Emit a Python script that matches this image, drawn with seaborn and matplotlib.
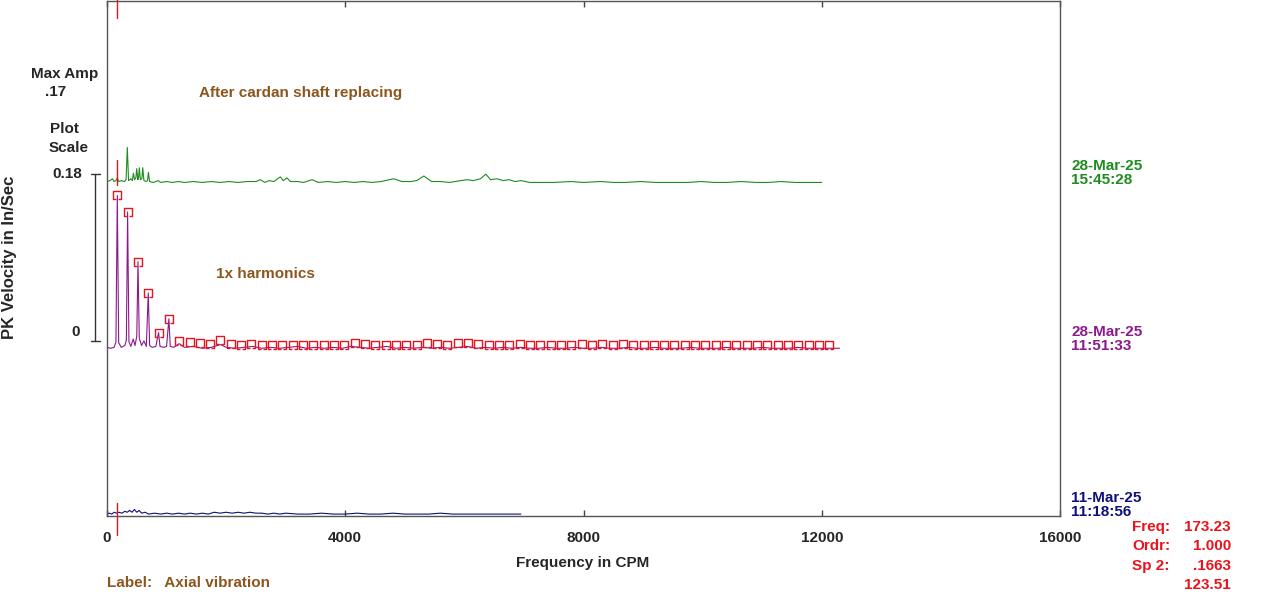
import matplotlib
matplotlib.use('Agg')
import numpy as np
import pandas as pd
import matplotlib.pyplot as plt
import seaborn as sns
from matplotlib.path import Path
from matplotlib.transforms import blended_transform_factory

# ---- data (amplitudes in In/Sec, frequency in CPM) ----
fundamental = 173.23
trace_gap = 0.18          # vertical spacing of the waterfall traces

green_freq = [0, 50, 90, 120, 150, 173, 195, 240, 290, 320, 341, 362, 400, 425, 443, 462,
              485, 499, 518, 530, 543, 560, 585, 600, 620, 660, 680, 695, 715, 780, 860, 900,
              1000, 1100, 1200, 1300, 1450, 1600, 1750, 1900, 2050, 2200, 2350, 2500, 2574,
              2650, 2720, 2800, 2910, 2960, 3020, 3080, 3200, 3300, 3443, 3550, 3700, 3850,
              4000, 4150, 4300, 4450, 4600, 4812, 4950, 5100, 5200, 5320, 5450, 5600, 5750,
              5940, 6050, 6150, 6270, 6360, 6440, 6550, 6650, 6750, 6850, 6950, 7100, 7300,
              7500, 7790, 8000, 8290, 8500, 8700, 8965, 9200, 9500, 9750, 9975, 10200, 10400,
              10650, 10900, 11100, 11320, 11550, 11800, 12000]
green_amp = [0.002, 0.003, 0.005, 0.002, 0.003, 0.006, 0.002, 0.003, 0.002, 0.004, 0.039, 0.003,
             0.005, 0.003, 0.011, 0.004, 0.006, 0.016, 0.004, 0.006, 0.017, 0.004, 0.005, 0.017,
             0.003, 0.002, 0.003, 0.012, 0.002, 0.001, 0.003, 0.001, 0.002, 0.001, 0.002, 0.001,
             0.002, 0.001, 0.002, 0.001, 0.002, 0.001, 0.002, 0.002, 0.004, 0.001, 0.003, 0.002,
             0.007, 0.003, 0.006, 0.002, 0.002, 0.001, 0.004, 0.001, 0.002, 0.001, 0.002, 0.001,
             0.002, 0.001, 0.002, 0.005, 0.002, 0.002, 0.003, 0.008, 0.002, 0.002, 0.001, 0.003,
             0.004, 0.003, 0.005, 0.010, 0.004, 0.005, 0.003, 0.004, 0.002, 0.003, 0.001, 0.001,
             0.001, 0.002, 0.001, 0.002, 0.001, 0.001, 0.002, 0.001, 0.001, 0.001, 0.002, 0.001,
             0.001, 0.002, 0.001, 0.001, 0.002, 0.001, 0.001, 0.001]

purple_freq = [0, 60, 120, 150, 173, 196, 240, 300, 325, 346, 368, 400, 440, 470, 500, 520, 542,
               580, 620, 660, 693, 716, 760, 820, 866, 890, 960, 1000, 1039, 1062, 1120, 1212,
               1300, 1450, 1600, 1750, 1905, 2000, 2150, 2300, 2450, 2600, 2750, 2900, 3050,
               3200, 3350, 3500, 3650, 3800, 3950, 4100, 4250, 4400, 4550, 4700, 4850, 5000,
               5150, 5300, 5450, 5600, 5750, 5900, 6050, 6200, 6350, 6500, 6650, 6800, 6950,
               7100, 7250, 7400, 7550, 7700, 7850, 8000, 8150, 8300, 8450, 8600, 8750, 8900,
               9050, 9200, 9350, 9500, 9650, 9800, 9950, 10100, 10250, 10400, 10550, 10700,
               10850, 11000, 11150, 11300, 11450, 11600, 11750, 11900, 12050, 12200, 12300]
purple_amp = [0.002, 0.001, 0.002, 0.008, 0.167, 0.007, 0.002, 0.004, 0.010, 0.149, 0.008, 0.003,
              0.011, 0.004, 0.014, 0.095, 0.012, 0.004, 0.009, 0.003, 0.061, 0.004, 0.002, 0.003,
              0.018, 0.003, 0.002, 0.003, 0.033, 0.003, 0.002, 0.006, 0.002, 0.003, 0.001, 0.002,
              0.005, 0.002, 0.001, 0.002, 0.003, 0.001, 0.002, 0.001, 0.002, 0.003, 0.001, 0.002,
              0.001, 0.002, 0.001, 0.003, 0.002, 0.001, 0.002, 0.003, 0.001, 0.002, 0.001, 0.002,
              0.001, 0.002, 0.001, 0.002, 0.003, 0.001, 0.002, 0.001, 0.002, 0.001, 0.002, 0.001,
              0.001, 0.002, 0.001, 0.001, 0.002, 0.001, 0.001, 0.002, 0.001, 0.001, 0.002, 0.001,
              0.001, 0.002, 0.001, 0.001, 0.001, 0.002, 0.001, 0.001, 0.001, 0.002, 0.001, 0.001,
              0.001, 0.002, 0.001, 0.001, 0.001, 0.002, 0.001, 0.001, 0.001, 0.001, 0.001]

harm_order = list(range(1, 71))
harm_amp = [0.167, 0.149, 0.095, 0.061, 0.018, 0.033, 0.0087, 0.008, 0.007, 0.006,
            0.0098, 0.0055, 0.005, 0.0055, 0.005, 0.0045, 0.005, 0.0045, 0.005, 0.0045,
            0.005, 0.0045, 0.005, 0.0065, 0.0055, 0.005, 0.0045, 0.0045, 0.005, 0.0045,
            0.0065, 0.006, 0.0045, 0.0065, 0.0065, 0.006, 0.0045, 0.005, 0.0045, 0.006,
            0.0045, 0.0045, 0.0045, 0.0045, 0.0045, 0.006, 0.0045, 0.006, 0.0045, 0.006,
            0.0045, 0.0045, 0.0045, 0.0045, 0.0045, 0.0045, 0.0045, 0.0045, 0.0045, 0.0045,
            0.0045, 0.0045, 0.0045, 0.0045, 0.005, 0.0045, 0.005, 0.005, 0.0045, 0.0045]

blue_freq = [0, 40, 80, 120, 160, 200, 250, 300, 340, 380, 420, 460, 500, 540, 580, 640, 700,
             800, 900, 1000, 1100, 1200, 1300, 1400, 1500, 1600, 1700, 1800, 1900, 2000, 2100,
             2200, 2300, 2400, 2500, 2600, 2700, 2800, 2900, 3000, 3200, 3400, 3600, 3800,
             4000, 4200, 4400, 4600, 4800, 5000, 5200, 5400, 5600, 5800, 6000, 6200, 6400,
             6600, 6800, 6950]
blue_amp = [0.001, 0.002, 0.001, 0.003, 0.002, 0.003, 0.002, 0.004, 0.003, 0.005, 0.003, 0.006,
            0.003, 0.005, 0.002, 0.003, 0.001, 0.002, 0.001, 0.002, 0.001, 0.002, 0.001, 0.002,
            0.001, 0.002, 0.001, 0.003, 0.002, 0.003, 0.002, 0.003, 0.002, 0.003, 0.002, 0.002,
            0.001, 0.002, 0.001, 0.002, 0.001, 0.001, 0.002, 0.001, 0.001, 0.002, 0.001, 0.001,
            0.002, 0.001, 0.001, 0.001, 0.002, 0.001, 0.001, 0.001, 0.001, 0.001, 0.001, 0.001]

x_ticks = [0, 4000, 8000, 12000, 16000]

# colours
GREEN = '#1e8c1e'
PURPLE = '#8b1a8b'
NAVY = '#10107a'
RED = '#e8141c'
BROWN = '#8c561e'
FS = 11

sns.set_style('white')
plt.rcParams['font.family'] = ['Liberation Sans', 'DejaVu Sans']
plt.rcParams['font.weight'] = 'bold'

fig = plt.figure(figsize=(12.8, 6.02), dpi=100)
W, H = 1280, 602
ax = fig.add_axes([107 / W, 1 - 516 / H, (1060 - 107) / W, 516 / H - 0.001])


def fx(px):
    return px / W


def fy(py):
    return 1 - py / H


traces = [
    (blue_freq, blue_amp, 0.0, NAVY),
    (purple_freq, purple_amp, trace_gap, PURPLE),
    (green_freq, green_amp, 2 * trace_gap, GREEN),
]
for freq, amp, off, col in traces:
    d = pd.DataFrame({'f': freq, 'a': np.array(amp) + off})
    sns.lineplot(data=d, x='f', y='a', ax=ax, color=col, lw=0.8, sort=False,
                 estimator=None)

# harmonic markers (open-bottom boxes)
box = Path([(-0.3, -0.85), (-1, -0.85), (-1, 0.85), (1, 0.85), (1, -0.85), (0.3, -0.85)])
hd = pd.DataFrame({'f': np.array(harm_order) * fundamental,
                   'a': np.array(harm_amp) + trace_gap})
ax.plot(hd['f'], hd['a'], ls='none', marker=box, ms=6, mfc='none', mec=RED, mew=1.0)

# cursor lines at 1x
for y0, y1 in [(0.540, 0.56), (2 * trace_gap - 0.002, 2 * trace_gap + 0.025), (-0.022, 0.013)]:
    ax.plot([fundamental, fundamental], [y0, y1], color=RED, lw=1.0, clip_on=False)

ax.set_xlim(0, 16000)
ax.set_ylim(-0.00108, 0.5584)
ax.set_xticks(x_ticks)
ax.set_xticklabels([str(t) for t in x_ticks], fontsize=FS, fontweight='bold')
ax.set_yticks([])
ax.tick_params(axis='x', direction='in', length=4, width=1, color='#444444',
               top=True, bottom=True, pad=11)
ax.set_xlabel('')
ax.set_ylabel('')
for s in ax.spines.values():
    s.set_color('#555555')
    s.set_linewidth(1.0)

fig.text(fx(583), fy(563), 'Frequency in CPM', ha='center', va='center', fontsize=FS,
         fontweight='bold')

# left-hand scale block
fig.text(fx(10), fy(257), 'PK Velocity in In/Sec', rotation=90, ha='center', va='center',
         fontsize=12, fontweight='bold')
fig.text(fx(65), fy(74), 'Max Amp', ha='center', va='center', fontsize=FS, fontweight='bold')
fig.text(fx(45), fy(92), '.17', ha='left', va='center', fontsize=FS, fontweight='bold')
fig.text(fx(64), fy(129), 'Plot', ha='center', va='center', fontsize=FS, fontweight='bold')
fig.text(fx(69), fy(148), 'Scale', ha='center', va='center', fontsize=FS, fontweight='bold')
fig.text(fx(82), fy(174), '0.18', ha='right', va='center', fontsize=FS, fontweight='bold')
fig.text(fx(80), fy(332), '0', ha='right', va='center', fontsize=FS, fontweight='bold')
tr = blended_transform_factory(fig.transFigure, fig.transFigure)
fig.add_artist(plt.Line2D([fx(95), fx(95)], [fy(174), fy(341)], color='#333333', lw=1,
                          transform=tr))
for py in (174, 341):
    fig.add_artist(plt.Line2D([fx(91), fx(100)], [fy(py), fy(py)], color='#333333', lw=1,
                              transform=tr))

# annotations
fig.text(fx(199), fy(93), 'After cardan shaft replacing', ha='left', va='center',
         fontsize=FS, fontweight='bold', color=BROWN)
fig.text(fx(216), fy(274), '1x harmonics', ha='left', va='center', fontsize=FS,
         fontweight='bold', color=BROWN)
fig.text(fx(107), fy(583), 'Label:   Axial vibration', ha='left', va='center', fontsize=FS,
         fontweight='bold', color=BROWN)

# trace dates
for lines, py, col in [(('28-Mar-25', '15:45:28'), 166, GREEN),
                       (('28-Mar-25', '11:51:33'), 332, PURPLE),
                       (('11-Mar-25', '11:18:56'), 498, NAVY)]:
    fig.text(fx(1071), fy(py), lines[0], ha='left', va='center', fontsize=FS,
             fontweight='bold', color=col)
    fig.text(fx(1071), fy(py + 14), lines[1], ha='left', va='center', fontsize=FS,
             fontweight='bold', color=col)

# cursor readout
for lab, val, py in [('Freq:', '173.23', 527), ('Ordr:', '1.000', 546),
                     ('Sp 2:', '.1663', 566), ('', '123.51', 585)]:
    if lab:
        fig.text(fx(1132), fy(py), lab, ha='left', va='center', fontsize=FS,
                 fontweight='bold', color=RED)
    fig.text(fx(1231), fy(py), val, ha='right', va='center', fontsize=FS,
             fontweight='bold', color=RED)

fig.savefig('out.png', dpi=100)
